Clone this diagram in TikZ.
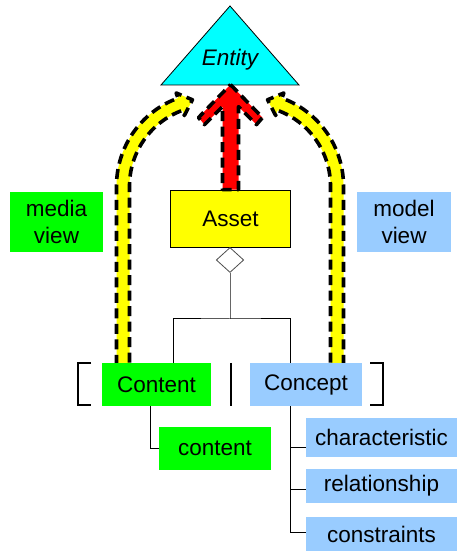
\documentclass[tikz,border=0pt]{standalone}
\usepackage{fontspec}
\setmainfont{Liberation Sans}
\usetikzlibrary{calc,shapes.geometric}
\definecolor{entitycyan}{RGB}{0,255,255}
\definecolor{boxgreen}{RGB}{0,255,0}
\definecolor{boxblue}{RGB}{153,204,255}
\definecolor{boxyellow}{RGB}{255,255,0}
\definecolor{arrowred}{RGB}{255,0,0}
\begin{document}
\begin{tikzpicture}[x=1pt,y=1pt,
  lbl/.style={font=\fontsize{22.5}{27}\selectfont, inner sep=0pt, align=center},
  greenbox/.style={lbl, fill=boxgreen},
  bluebox/.style={lbl, fill=boxblue},
  assetbox/.style={lbl, fill=boxyellow, draw=black, line width=0.8pt},
  band/.style={fill=boxyellow, draw=black, line width=3.6pt, dash pattern=on 10pt off 5.5pt, line join=round},
  redarrow/.style={fill=arrowred, draw=black, line width=3.6pt, dash pattern=on 10pt off 5.5pt, line join=round},
  tree/.style={draw=black, line width=1pt},
  bracket/.style={draw=black, line width=1.6pt}]
\useasboundingbox (0,0) rectangle (458,551);

% Entity triangle
\coordinate (apex) at (230,545);
\coordinate (baseL) at (161,466);
\coordinate (baseR) at (299,466);
\filldraw[fill=entitycyan, draw=black, line width=0.8pt] (apex) -- (baseR) -- (baseL) -- cycle;
\node[lbl] (entity) at (230,491) {\itshape Entity};

% curved view arrows
\coordinate (lc) at (210,365);
\coordinate (rc) at (250,365);
\path[band] (116.5,186) -- (116.5,365) arc[start angle=180, end angle=110, radius=93.5]
  -- ($(lc)+(110:99)$) -- ($(lc)+(110:87)+(20:13)$) -- ($(lc)+(110:75)$)
  -- ($(lc)+(110:80.5)$) arc[start angle=110, end angle=180, radius=80.5]
  -- (129.5,186) -- cycle;
\path[band] (343.5,186) -- (343.5,365) arc[start angle=0, end angle=70, radius=93.5]
  -- ($(rc)+(70:99)$) -- ($(rc)+(70:87)+(160:13)$) -- ($(rc)+(70:75)$)
  -- ($(rc)+(70:80.5)$) arc[start angle=70, end angle=0, radius=80.5]
  -- (330.5,186) -- cycle;

% view labels
\node[greenbox, minimum width=93, minimum height=60] (media) at (56.5,329) {media\\view};
\node[bluebox, minimum width=94, minimum height=60] (model) at (404,329) {model\\view};

% Asset and its generalisation arrow
\node[assetbox, minimum width=120, minimum height=57] (asset) at (230.5,332.5) {Asset};
\begin{scope}[shift={(asset.north)}]
  \path[redarrow] (0,105) -- (32,72) -- (26,65) -- (8,83) -- (8,0) -- (-8,0)
    -- (-8,83) -- (-26,65) -- (-32,72) -- cycle;
\end{scope}

% aggregation diamond and tree
\node[diamond, draw=black!70, fill=white, line width=0.8pt, minimum width=27.5, minimum height=25, inner sep=0pt] (agg) at (230,291) {};
\coordinate (fork) at (230,232);
\draw[draw=black!60, line width=1pt] (agg.south) -- (fork);

\node[greenbox, minimum width=109, minimum height=43] (content) at (156.5,166.5) {Content};
\node[bluebox, minimum width=112, minimum height=43] (concept) at (306,166.5) {Concept};
\draw[tree] ([xshift=16.5]content.north) |- (fork) -| ([xshift=-16]concept.north);

% brackets
\draw[bracket] (91,188) -- (78,188) -- (78,146) -- (91,146);
\draw[bracket] (370,188) -- (383,188) -- (383,146) -- (370,146);
\draw[bracket] (231,188) -- (231,145);

% sub items
\node[greenbox, minimum width=112, minimum height=43] (contentsub) at (215,102.5) {content};
\node[bluebox, minimum width=151, minimum height=39] (char) at (381.5,113.5) {characteristic};
\node[bluebox, minimum width=151, minimum height=34] (rel) at (381.5,65) {relationship};
\node[bluebox, minimum width=151, minimum height=34] (cons) at (381.5,17) {constraints};

\draw[tree] ([xshift=-6.5]content.south) |- (contentsub.west);
\draw[tree] ([xshift=-16]concept.south) |- ([yshift=-10.5]char.west);
\draw[tree] ([xshift=-16]concept.south) |- ([yshift=-4]rel.west);
\draw[tree] ([xshift=-16]concept.south) |- ([yshift=1]cons.west);
\end{tikzpicture}
\end{document}
